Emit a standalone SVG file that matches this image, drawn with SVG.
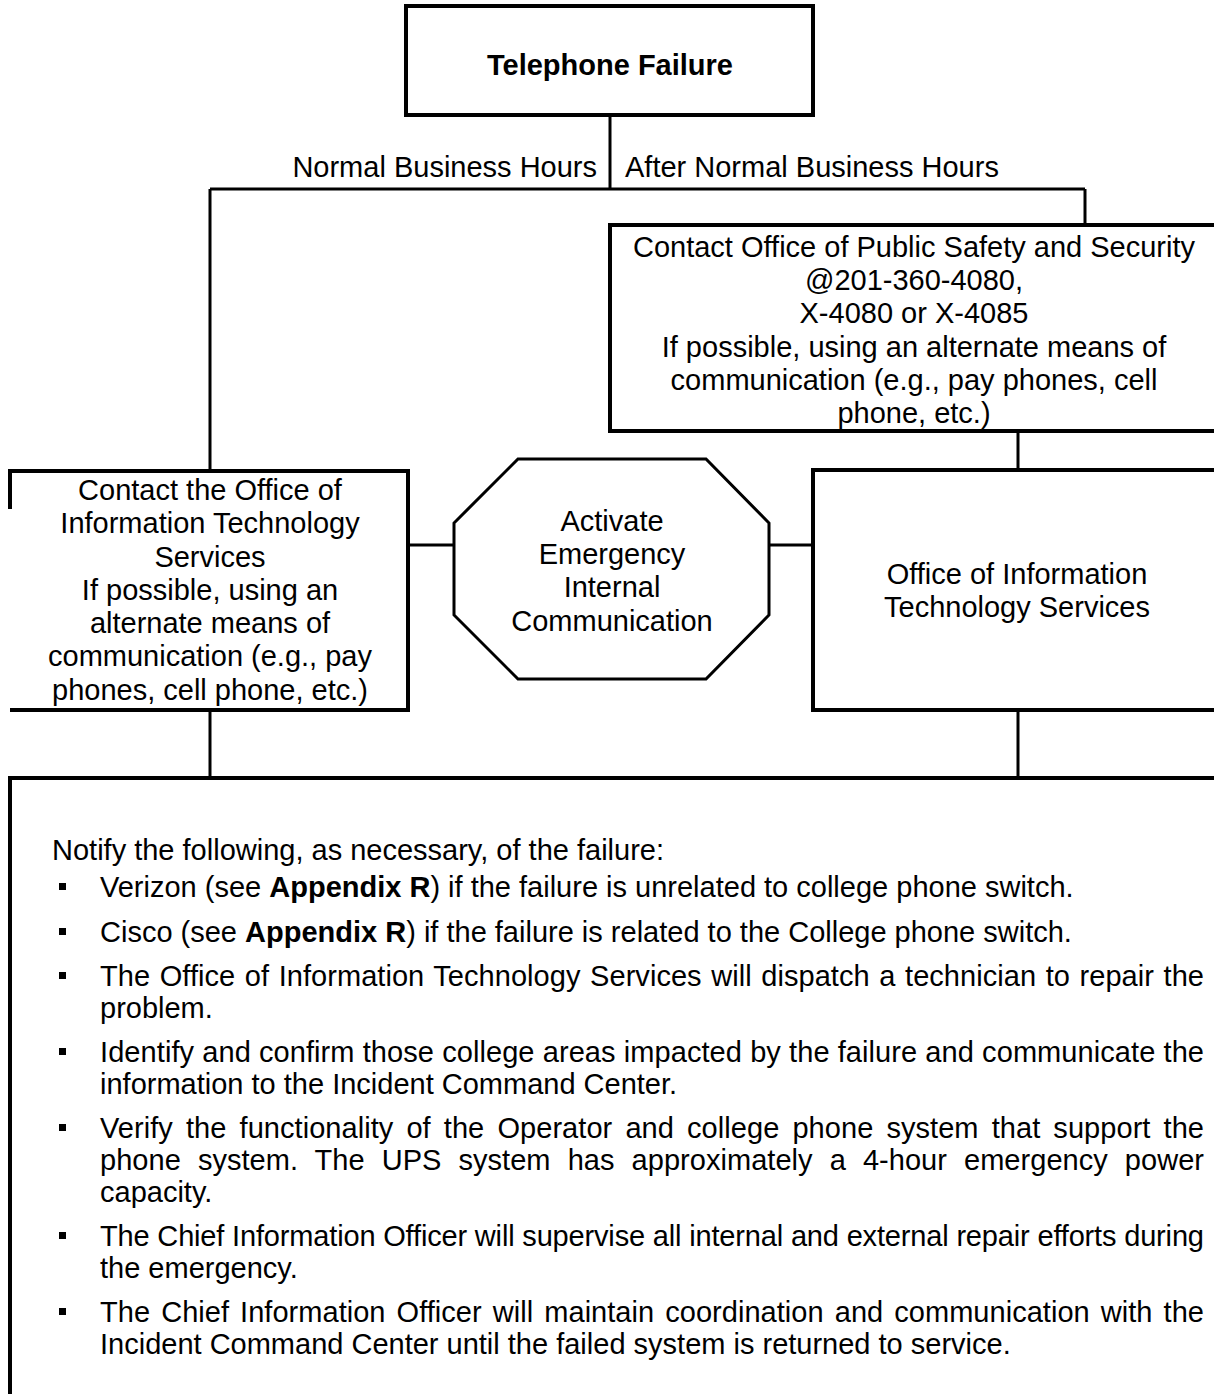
<svg xmlns="http://www.w3.org/2000/svg" width="1214" height="1394" viewBox="0 0 1214 1394">
  <style>
    text { font-family: "Liberation Sans", Arial, sans-serif; font-size: 29px; fill: #000; }
    .c { text-anchor: middle; }
    .e { text-anchor: end; }
    .b { font-weight: bold; }
    .box { fill: #fff; stroke: #000; stroke-width: 4; }
    .edge { fill: none; stroke: #000; stroke-width: 4; }
    .wire { fill: none; stroke: #000; stroke-width: 3; }
    .oct { fill: #fff; stroke: #000; stroke-width: 3; }
    .bullet { fill: #000; }
  </style>
  <rect width="1214" height="1394" fill="#fff"/>

  <!-- connectors -->
  <g id="connectors">
    <path class="wire" d="M610,115 V189"/>
    <path class="wire" d="M210,189 H1085"/>
    <path class="wire" d="M210,189 V471"/>
    <path class="wire" d="M1085,189 V225"/>
    <path class="wire" d="M1018,431 V470"/>
    <path class="wire" d="M408,545 H454"/>
    <path class="wire" d="M769,545 H813"/>
    <path class="wire" d="M210,710 V778"/>
    <path class="wire" d="M1018,710 V778"/>
  </g>

  <!-- branch labels -->
  <g id="labels">
    <text class="e" x="597" y="177">Normal Business Hours</text>
    <text x="625" y="177">After Normal Business Hours</text>
  </g>

  <!-- start node -->
  <g id="telephone-failure">
    <rect class="box" x="406" y="6" width="407" height="109"/>
    <text class="c b" x="610" y="75">Telephone Failure</text>
  </g>

  <!-- after hours: public safety -->
  <g id="public-safety">
    <rect class="box" x="610" y="225" width="620" height="206"/>
    <text class="c" x="914" y="257">Contact Office of Public Safety and Security</text>
    <text class="c" x="914" y="290">@201-360-4080,</text>
    <text class="c" x="914" y="323">X-4080 or X-4085</text>
    <text class="c" x="914" y="357">If possible, using an alternate means of</text>
    <text class="c" x="914" y="390">communication (e.g., pay phones, cell</text>
    <text class="c" x="914" y="423">phone, etc.)</text>
  </g>

  <!-- business hours: contact ITS -->
  <g id="contact-its">
    <rect x="10" y="471" width="398" height="239" fill="#fff"/>
    <path class="edge" d="M10,509 V471 H408 V710 H10"/>
    <text class="c" x="210" y="500">Contact the Office of</text>
    <text class="c" x="210" y="533">Information Technology</text>
    <text class="c" x="210" y="567">Services</text>
    <text class="c" x="210" y="600">If possible, using an</text>
    <text class="c" x="210" y="633">alternate means of</text>
    <text class="c" x="210" y="666">communication (e.g., pay</text>
    <text class="c" x="210" y="700">phones, cell phone, etc.)</text>
  </g>

  <!-- octagon -->
  <g id="activate-emergency">
    <polygon class="oct" points="518,459 706,459 769,523 769,615 706,679 518,679 454,615 454,523"/>
    <text class="c" x="612" y="531">Activate</text>
    <text class="c" x="612" y="564">Emergency</text>
    <text class="c" x="612" y="597">Internal</text>
    <text class="c" x="612" y="631">Communication</text>
  </g>

  <!-- ITS office -->
  <g id="its-office">
    <rect class="box" x="813" y="470" width="420" height="240"/>
    <text class="c" x="1017" y="584">Office of Information</text>
    <text class="c" x="1017" y="617">Technology Services</text>
  </g>

  <!-- notification steps -->
  <g id="notify-steps">
    <rect x="10" y="778" width="1220" height="630" fill="#fff"/>
    <path class="edge" d="M10,1400 V778 H1230"/>
    <text x="52" y="860">Notify the following, as necessary, of the failure:</text>

    <rect class="bullet" x="59" y="883" width="7" height="7"/>
    <text x="100" y="897">Verizon (see <tspan class="b">Appendix R</tspan>) if the failure is unrelated to college phone switch.</text>

    <rect class="bullet" x="59" y="928" width="7" height="7"/>
    <text x="100" y="942">Cisco (see <tspan class="b">Appendix R</tspan>) if the failure is related to the College phone switch.</text>

    <rect class="bullet" x="59" y="972" width="7" height="7"/>
    <text x="100" y="986" textLength="1104" lengthAdjust="spacing" word-spacing="1.5">The Office of Information Technology Services will dispatch a technician to repair the</text>
    <text x="100" y="1018">problem.</text>

    <rect class="bullet" x="59" y="1048" width="7" height="7"/>
    <text x="100" y="1062" textLength="1104" lengthAdjust="spacing">Identify and confirm those college areas impacted by the failure and communicate the</text>
    <text x="100" y="1094">information to the Incident Command Center.</text>

    <rect class="bullet" x="59" y="1124" width="7" height="7"/>
    <text x="100" y="1138" textLength="1104" lengthAdjust="spacing" word-spacing="5">Verify the functionality of the Operator and college phone system that support the</text>
    <text x="100" y="1170" textLength="1104" lengthAdjust="spacing" word-spacing="9">phone system. The UPS system has approximately a 4-hour emergency power</text>
    <text x="100" y="1202">capacity.</text>

    <rect class="bullet" x="59" y="1232" width="7" height="7"/>
    <text x="100" y="1246" textLength="1104" lengthAdjust="spacing">The Chief Information Officer will supervise all internal and external repair efforts during</text>
    <text x="100" y="1278">the emergency.</text>

    <rect class="bullet" x="59" y="1308" width="7" height="7"/>
    <text x="100" y="1322" textLength="1104" lengthAdjust="spacing" word-spacing="3">The Chief Information Officer will maintain coordination and communication with the</text>
    <text x="100" y="1354">Incident Command Center until the failed system is returned to service.</text>
  </g>
</svg>
